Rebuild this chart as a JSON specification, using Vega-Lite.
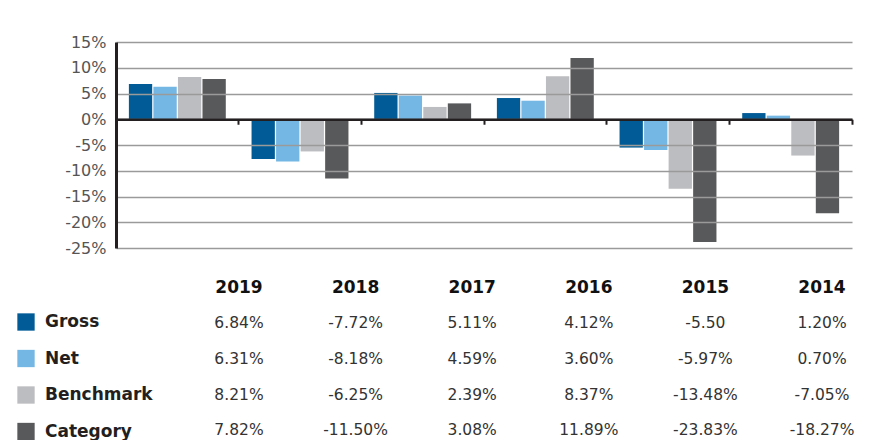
{
  "$schema": "https://vega.github.io/schema/vega-lite/v6.json",
  "padding": {"left": 17, "top": 34, "right": 10, "bottom": 0},
  "background": "white",
  "config": {"view": {"stroke": null}, "font": "DejaVu Sans"},
  "datasets": {
    "returns": [
      {"year": "2019", "series": "Gross", "value": 6.84, "label": "6.84%"},
      {"year": "2019", "series": "Net", "value": 6.31, "label": "6.31%"},
      {"year": "2019", "series": "Benchmark", "value": 8.21, "label": "8.21%"},
      {"year": "2019", "series": "Category", "value": 7.82, "label": "7.82%"},
      {"year": "2018", "series": "Gross", "value": -7.72, "label": "-7.72%"},
      {"year": "2018", "series": "Net", "value": -8.18, "label": "-8.18%"},
      {"year": "2018", "series": "Benchmark", "value": -6.25, "label": "-6.25%"},
      {"year": "2018", "series": "Category", "value": -11.5, "label": "-11.50%"},
      {"year": "2017", "series": "Gross", "value": 5.11, "label": "5.11%"},
      {"year": "2017", "series": "Net", "value": 4.59, "label": "4.59%"},
      {"year": "2017", "series": "Benchmark", "value": 2.39, "label": "2.39%"},
      {"year": "2017", "series": "Category", "value": 3.08, "label": "3.08%"},
      {"year": "2016", "series": "Gross", "value": 4.12, "label": "4.12%"},
      {"year": "2016", "series": "Net", "value": 3.6, "label": "3.60%"},
      {"year": "2016", "series": "Benchmark", "value": 8.37, "label": "8.37%"},
      {"year": "2016", "series": "Category", "value": 11.89, "label": "11.89%"},
      {"year": "2015", "series": "Gross", "value": -5.5, "label": "-5.50"},
      {"year": "2015", "series": "Net", "value": -5.97, "label": "-5.97%"},
      {"year": "2015", "series": "Benchmark", "value": -13.48, "label": "-13.48%"},
      {"year": "2015", "series": "Category", "value": -23.83, "label": "-23.83%"},
      {"year": "2014", "series": "Gross", "value": 1.2, "label": "1.20%"},
      {"year": "2014", "series": "Net", "value": 0.7, "label": "0.70%"},
      {"year": "2014", "series": "Benchmark", "value": -7.05, "label": "-7.05%"},
      {"year": "2014", "series": "Category", "value": -18.27, "label": "-18.27%"}
    ],
    "years": [
      {"year": "2019"}, {"year": "2018"}, {"year": "2017"},
      {"year": "2016"}, {"year": "2015"}, {"year": "2014"}
    ]
  },
  "spacing": 31,
  "bounds": "flush",
  "vconcat": [
    {
      "width": 736,
      "height": 206,
      "data": {"name": "returns"},
      "mark": {"type": "bar"},
      "encoding": {
        "x": {
          "field": "year", "type": "nominal",
          "sort": ["2019", "2018", "2017", "2016", "2015", "2014"],
          "scale": {"paddingInner": 0.21, "paddingOuter": 0.105},
          "axis": {
            "orient": "bottom", "offset": -128.75, "bandPosition": 1.133,
            "labels": false, "title": null, "grid": false, "zindex": 1,
            "domainColor": "#231f20", "domainWidth": 2.5,
            "tickColor": "#231f20", "tickWidth": 2, "tickSize": 5
          }
        },
        "xOffset": {
          "field": "series", "type": "nominal",
          "sort": ["Gross", "Net", "Benchmark", "Category"],
          "scale": {"paddingInner": 0.05}
        },
        "y": {
          "field": "value", "type": "quantitative",
          "scale": {"domain": [-25, 15], "nice": false},
          "axis": {
            "values": [-25, -20, -15, -10, -5, 0, 5, 10, 15],
            "labelExpr": "datum.value + '%'",
            "title": null, "grid": true, "gridColor": "#9a9a9a", "gridWidth": 1.5,
            "domainColor": "#231f20", "domainWidth": 3, "ticks": false, "zindex": 1,
            "labelFontSize": 16, "labelColor": "#555555", "labelPadding": 10,
            "labelFont": "DejaVu Sans"
          }
        },
        "color": {
          "field": "series", "type": "nominal",
          "scale": {
            "domain": ["Gross", "Net", "Benchmark", "Category"],
            "range": ["#005b96", "#74b7e4", "#bcbdc0", "#58595b"]
          },
          "legend": {
            "orient": "none", "legendX": -99, "legendY": 271,
            "title": null, "direction": "vertical", "padding": 0,
            "symbolType": "square", "symbolSize": 300, "symbolStrokeWidth": 0,
            "symbolOpacity": 1,
            "labelFontSize": 17, "labelFont": "DejaVu Sans", "labelFontWeight": "bold",
            "labelColor": "#231f20", "labelOffset": 10, "rowPadding": 18.5
          }
        }
      }
    },
    {
      "width": 736,
      "height": 160,
      "layer": [
        {
          "data": {"name": "years"},
          "mark": {"type": "text", "fontSize": 17, "fontWeight": "bold", "color": "#111111", "baseline": "middle", "font": "DejaVu Sans"},
          "encoding": {
            "x": {
              "field": "year", "type": "nominal",
              "sort": ["2019", "2018", "2017", "2016", "2015", "2014"],
              "scale": {"type": "point", "padding": 0.656, "align": 0.804},
              "axis": null
            },
            "y": {
              "datum": "header", "type": "nominal",
              "scale": {"type": "point", "domain": ["header", "Gross", "Net", "Benchmark", "Category"], "padding": 0.25},
              "axis": null
            },
            "text": {"field": "year"}
          }
        },
        {
          "data": {"name": "returns"},
          "mark": {"type": "text", "fontSize": 15.5, "color": "#333333", "baseline": "middle", "font": "DejaVu Sans"},
          "encoding": {
            "x": {"field": "year", "type": "nominal", "sort": ["2019", "2018", "2017", "2016", "2015", "2014"]},
            "y": {"field": "series", "type": "nominal"},
            "text": {"field": "label"}
          }
        }
      ]
    }
  ]
}
